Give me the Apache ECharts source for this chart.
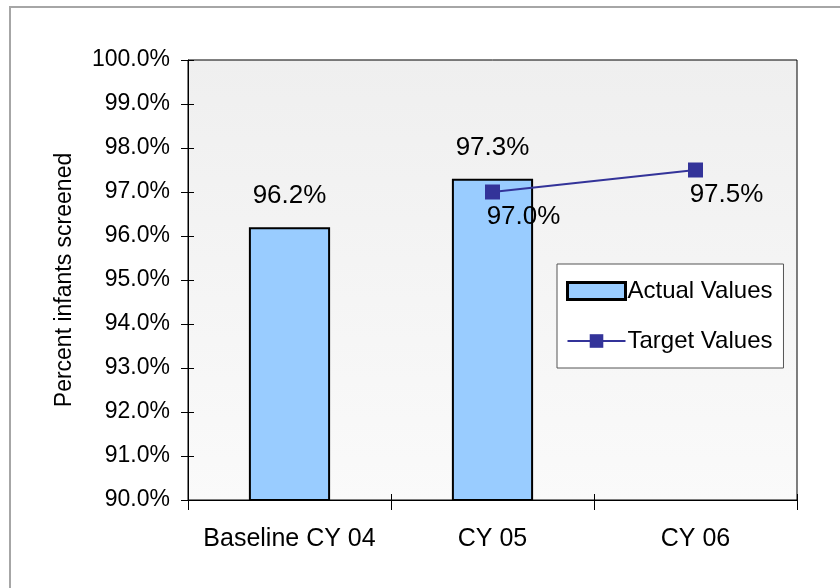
<!DOCTYPE html>
<html>
<head>
<meta charset="utf-8">
<script src="https://cdn.jsdelivr.net/npm/echarts@6/dist/echarts.min.js"></script>
<style>html,body{margin:0;padding:0;background:#fff;}#c{width:840px;height:588px;}</style>
</head>
<body>
<div id="c"></div>
<script>
var categories = ['Baseline CY 04', 'CY 05', 'CY 06'];
var actualValues = [96.2, 97.3, null];
var targetValues = [null, 97.0, 97.5];
var yMin = 90, yMax = 100, yStep = 1;
var yAxisTitle = 'Percent infants screened';
var seriesNames = ['Actual Values', 'Target Values'];

var FONT = '"Liberation Sans", Arial, sans-serif';
var chart = echarts.init(document.getElementById('c'), null, {renderer: 'canvas'});
function pct(v) { return v.toFixed(1) + '%'; }

chart.setOption({
  animation: false,
  backgroundColor: '#ffffff',
  textStyle: {fontFamily: FONT, color: '#000'},
  graphic: [{
    type: 'rect', silent: true, z: -10,
    shape: {x: 10, y: 7, width: 900, height: 900},
    style: {fill: null, stroke: '#a6a6a6', lineWidth: 2}
  }],
  grid: {
    left: 188, right: 43, top: 60, bottom: 88,
    show: true, borderColor: '#000', borderWidth: 1,
    backgroundColor: {type: 'linear', x: 0, y: 0, x2: 0, y2: 1,
      colorStops: [{offset: 0, color: '#efefef'}, {offset: 1, color: '#fafafa'}]}
  },
  legend: {
    orient: 'vertical', left: 557, top: 264,
    padding: [15, 11, 15, 9],
    backgroundColor: '#ffffff', borderColor: '#555', borderWidth: 1,
    itemWidth: 58, itemHeight: 17, itemGap: 26,
    textStyle: {fontFamily: FONT, fontSize: 24, color: '#000', padding: [0, 0, 0, -3]},
    data: [
      {name: seriesNames[0], icon: 'rect', itemStyle: {color: '#99ccff', borderColor: '#000', borderWidth: 3}},
      {name: seriesNames[1]}
    ]
  },
  xAxis: [{
    type: 'category', data: categories, boundaryGap: true,
    axisLine: {lineStyle: {color: '#000', width: 1}},
    axisTick: {show: true, interval: 0, length: 10, lineStyle: {color: '#000'}},
    axisLabel: {fontFamily: FONT, fontSize: 25, color: '#000', margin: 27, interval: 0}
  }, {
    type: 'category', data: categories, boundaryGap: true, position: 'bottom', offset: 0,
    axisLine: {show: false},
    axisTick: {show: true, inside: true, interval: 0, length: 6, lineStyle: {color: '#000'}},
    axisLabel: {show: false}
  }],
  yAxis: [{
    type: 'value', min: yMin, max: yMax, interval: yStep,
    name: yAxisTitle, nameLocation: 'middle', nameGap: 112,
    nameTextStyle: {fontFamily: FONT, fontSize: 23, color: '#000'},
    axisLine: {show: true, lineStyle: {color: '#000', width: 1}},
    axisTick: {show: true, length: 7, lineStyle: {color: '#000'}},
    splitLine: {show: false},
    axisLabel: {fontFamily: FONT, fontSize: 23, color: '#000', margin: 18, formatter: pct}
  }, {
    type: 'value', min: yMin, max: yMax, interval: yStep, position: 'left', offset: 0,
    axisLine: {show: false},
    axisTick: {show: true, inside: true, length: 6, lineStyle: {color: '#000'}},
    splitLine: {show: false},
    axisLabel: {show: false}
  }],
  series: [{
    name: seriesNames[0], type: 'bar', data: actualValues,
    xAxisIndex: 0, yAxisIndex: 0,
    barWidth: '40%',
    itemStyle: {color: '#99ccff', borderColor: '#000', borderWidth: 2},
    label: {show: true, position: 'top', distance: 18, fontFamily: FONT, fontSize: 26, color: '#000',
      formatter: function (p) { return pct(p.value); }}
  }, {
    name: seriesNames[1], type: 'line', data: targetValues,
    xAxisIndex: 0, yAxisIndex: 0,
    connectNulls: false,
    symbol: 'rect', symbolSize: 15, showAllSymbol: true,
    lineStyle: {color: '#333399', width: 2},
    itemStyle: {color: '#333399'},
    label: {show: true, position: 'bottom', distance: 4, offset: [31, 0], fontFamily: FONT, fontSize: 26, color: '#000',
      formatter: function (p) { return pct(p.value); }}
  }]
});
</script>
</body>
</html>
